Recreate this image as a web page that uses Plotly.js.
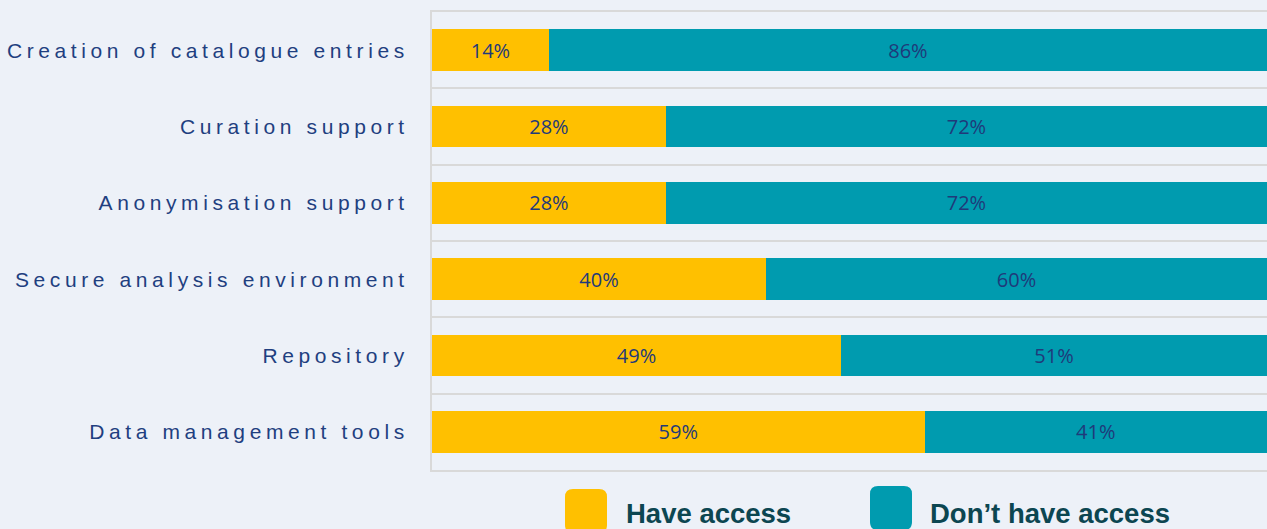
<!DOCTYPE html>
<html>
<head>
<meta charset="utf-8">
<script src="https://cdn.plot.ly/plotly-3.0.1.min.js"></script>
<style>
  html, body { margin: 0; padding: 0; background: #EDF1F8; }
  #chart { width: 1267px; height: 529px; }
  .ytick text { letter-spacing: 4.6px; }
</style>
</head>
<body>
<div id="chart"></div>
<script>
const categories = [
  "Creation of catalogue entries",
  "Curation support",
  "Anonymisation support",
  "Secure analysis environment",
  "Repository",
  "Data management tools"
];
const haveAccess = [14, 28, 28, 40, 49, 59];
const dontHaveAccess = [86, 72, 72, 60, 51, 41];
const seriesNames = ["Have access", "Don\u2019t have access"];
const seriesColors = ["#FFC000", "#009BAF"];

const textFont = { family: "Open Sans, Noto Sans, sans-serif", size: 20, color: "#1F3A7A" };

const traces = [haveAccess, dontHaveAccess].map((vals, i) => ({
  type: "bar",
  orientation: "h",
  y: categories,
  x: vals,
  name: seriesNames[i],
  marker: { color: seriesColors[i], line: { width: 0 } },
  text: vals.map(v => v + "%"),
  textposition: "inside",
  insidetextanchor: "middle",
  textangle: 0,
  constraintext: "none",
  textfont: textFont,
  hoverinfo: "skip",
  showlegend: false
}));

// Legend drawn as rounded squares + labels (paper coords)
const W = 835, H = 458;
function px2paperX(px) { return (px - 432) / W; }
function px2paperY(py) { return (470 - py) / H; }
function roundedRect(hw, hh, r) {
  return `M ${-hw + r} ${-hh} L ${hw - r} ${-hh} Q ${hw} ${-hh} ${hw} ${-hh + r} ` +
         `L ${hw} ${hh - r} Q ${hw} ${hh} ${hw - r} ${hh} L ${-hw + r} ${hh} ` +
         `Q ${-hw} ${hh} ${-hw} ${hh - r} L ${-hw} ${-hh + r} Q ${-hw} ${-hh} ${-hw + r} ${-hh} Z`;
}
const legendBoxes = [{ cx: 586, cy: 511 }, { cx: 891, cy: 508 }];
const legendTextX = [625, 929];
const shapes = legendBoxes.map((b, i) => ({
  type: "path",
  xref: "paper", yref: "paper",
  xsizemode: "pixel", ysizemode: "pixel",
  xanchor: px2paperX(b.cx), yanchor: px2paperY(b.cy),
  path: roundedRect(21, 22, 8),
  fillcolor: seriesColors[i],
  line: { width: 0 }
}));
const annotations = seriesNames.map((n, i) => ({
  xref: "paper", yref: "paper",
  x: px2paperX(legendTextX[i]), y: px2paperY(513),
  xanchor: "left", yanchor: "middle",
  xshift: -1,
  text: "<b>" + n + "</b>",
  showarrow: false,
  font: { family: "Liberation Sans, Arial, sans-serif", size: 27.5, color: "#0C4651" }
}));

const layout = {
  width: 1267, height: 529,
  margin: { l: 432, r: 0, t: 12, b: 59, pad: 0 },
  paper_bgcolor: "#EDF1F8",
  plot_bgcolor: "#EDF1F8",
  barmode: "stack",
  bargap: 0.45,
  showlegend: false,
  xaxis: {
    range: [0, 100],
    showgrid: false, zeroline: false, showticklabels: false, ticks: "",
    showline: true, mirror: true, linecolor: "#D9D9D9", linewidth: 2,
    fixedrange: true
  },
  yaxis: {
    type: "category",
    categoryorder: "array",
    categoryarray: categories,
    autorange: "reversed",
    tickson: "boundaries",
    ticks: "",
    showgrid: true, gridcolor: "#D9D9D9", gridwidth: 2,
    showline: true, linecolor: "#D9D9D9", linewidth: 2,
    ticklabelstandoff: 17,
    tickfont: { family: "Liberation Sans, Arial, sans-serif", size: 21, color: "#1F3F80" },
    automargin: false,
    fixedrange: true
  },
  shapes: shapes,
  annotations: annotations,
  font: { family: "Liberation Sans, Arial, sans-serif" }
};

Plotly.newPlot("chart", traces, layout, { displayModeBar: false, staticPlot: true });
</script>
</body>
</html>
